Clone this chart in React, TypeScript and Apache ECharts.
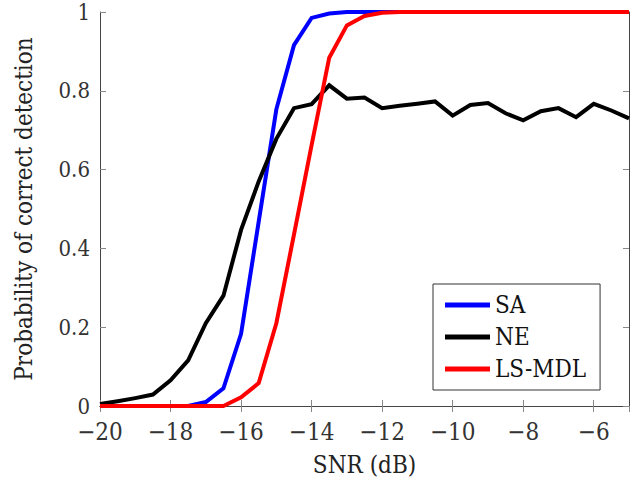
import React, { useEffect, useRef } from "react";
import * as echarts from "echarts";

const snr = [-20, -19.5, -19, -18.5, -18, -17.5, -17, -16.5, -16, -15.5, -15, -14.5, -14, -13.5, -13, -12.5, -12, -11.5, -11, -10.5, -10, -9.5, -9, -8.5, -8, -7.5, -7, -6.5, -6, -5.5, -5];
const saValues = [0, 0, 0, 0, 0, 0, 0.01, 0.045, 0.183, 0.468, 0.753, 0.916, 0.985, 0.996, 1, 1, 1, 1, 1, 1, 1, 1, 1, 1, 1, 1, 1, 1, 1, 1, 1];
const neValues = [0.005, 0.012, 0.02, 0.029, 0.065, 0.116, 0.21, 0.28, 0.447, 0.57, 0.678, 0.756, 0.766, 0.814, 0.78, 0.783, 0.756, 0.762, 0.767, 0.773, 0.737, 0.764, 0.769, 0.743, 0.725, 0.748, 0.756, 0.733, 0.767, 0.75, 0.73];
const lsmdlValues = [0, 0, 0, 0, 0, 0, 0, 0, 0.022, 0.058, 0.21, 0.435, 0.662, 0.884, 0.966, 0.99, 0.998, 1, 1, 1, 1, 1, 1, 1, 1, 1, 1, 1, 1, 1, 1];
const seriesNames = ["SA", "NE", "LS-MDL"];
const seriesColors = ["#0000ff", "#000000", "#ff0000"];

const FONT = "DejaVu Serif Condensed";
const FS = 24;

export default function App() {
  const ref = useRef<HTMLDivElement>(null);
  useEffect(() => {
    if (!ref.current) return;
    const chart = echarts.init(ref.current, undefined, { renderer: "svg" });
    const allValues = [saValues, neValues, lsmdlValues];
    const axisLine = { show: true, lineStyle: { color: "#444", width: 1 } };
    const tick = { show: true, inside: true, length: 6, lineStyle: { color: "#888", width: 1 } };
    chart.setOption({
      animation: false,
      textStyle: { fontFamily: FONT },
      grid: { left: 100, right: 12, top: 12, bottom: 76, containLabel: false },
      legend: {
        orient: "vertical",
        left: 433,
        top: 284,
        padding: [9, 14, 9, 12],
        itemGap: 8,
        itemWidth: 45,
        itemHeight: 5,
        borderColor: "#333",
        borderWidth: 1,
        backgroundColor: "#fff",
        icon: "rect",
        textStyle: { fontFamily: FONT, fontSize: FS, color: "#111", lineHeight: 24 },
        data: seriesNames,
      },
      xAxis: [
        {
          type: "value",
          min: -20,
          max: -5,
          interval: 2,
          name: "SNR (dB)",
          nameLocation: "middle",
          nameGap: 47,
          nameTextStyle: { fontFamily: FONT, fontSize: FS, color: "#222" },
          axisLine,
          axisTick: tick,
          splitLine: { show: false },
          axisLabel: {
            fontFamily: FONT,
            fontSize: FS,
            color: "#333",
            margin: 14,
            showMaxLabel: false,
            formatter: (v: number) => (v < 0 ? "\u2212" + Math.abs(v) : String(v)),
          },
        },
        {
          type: "value",
          position: "top",
          min: -20,
          max: -5,
          interval: 2,
          axisLine,
          axisTick: tick,
          splitLine: { show: false },
          axisLabel: { show: false },
        },
      ],
      yAxis: [
        {
          type: "value",
          min: 0,
          max: 1,
          interval: 0.2,
          name: "Probability of correct detection",
          nameLocation: "middle",
          nameGap: 64,
          nameTextStyle: { fontFamily: FONT, fontSize: FS, color: "#222" },
          axisLine,
          axisTick: tick,
          splitLine: { show: false },
          axisLabel: { fontFamily: FONT, fontSize: 22, color: "#333", margin: 10 },
        },
        {
          type: "value",
          position: "right",
          min: 0,
          max: 1,
          interval: 0.2,
          axisLine,
          axisTick: tick,
          splitLine: { show: false },
          axisLabel: { show: false },
        },
      ],
      series: seriesNames.map((name, i) => ({
        name,
        type: "line",
        xAxisIndex: 0,
        yAxisIndex: 0,
        data: snr.map((x, j) => [x, allValues[i][j]]),
        showSymbol: false,
        symbol: "none",
        clip: false,
        color: seriesColors[i],
        lineStyle: { color: seriesColors[i], width: 4, join: "miter" },
        z: 2 + i,
      })),
    });
    return () => chart.dispose();
  }, []);
  return <div ref={ref} style={{ width: 641, height: 482, position: "absolute", left: 0, top: 0 }} />;
}
